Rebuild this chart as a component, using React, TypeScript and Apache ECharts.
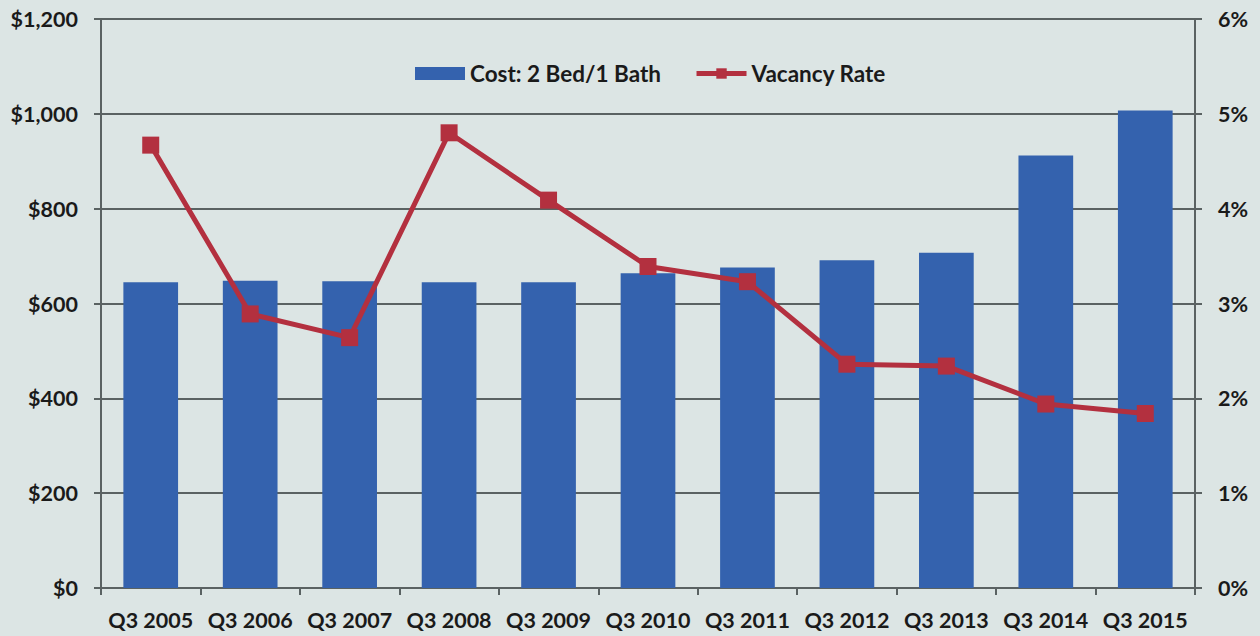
import React, { useEffect, useRef } from "react";
import * as echarts from "echarts";

const categories = ["Q3 2005", "Q3 2006", "Q3 2007", "Q3 2008", "Q3 2009", "Q3 2010", "Q3 2011", "Q3 2012", "Q3 2013", "Q3 2014", "Q3 2015"];
const costValues = [645, 648, 647, 645, 645, 664, 676, 691, 707, 912, 1007];
const vacancyValues = [4.67, 2.89, 2.64, 4.8, 4.09, 3.39, 3.23, 2.36, 2.34, 1.94, 1.84];

const FONT = "Lato, 'Open Sans', sans-serif";
const TEXT = "#1a1a1a";
const GRID = "#5a6262";
const RED = "#b3303f";
const AXIS_FS = 21.5;

export default function App() {
  const ref = useRef<HTMLDivElement>(null);
  useEffect(() => {
    document.body.style.margin = "0";
    const chart = echarts.init(ref.current!, null, { renderer: "svg" });
    chart.setOption({
      animation: false,
      backgroundColor: "#dce5e4",
      textStyle: { fontFamily: FONT },
      legend: {
        top: 57,
        left: 410,
        itemWidth: 50,
        itemHeight: 13,
        itemGap: 33,
        textStyle: { fontSize: 22.5, fontWeight: "bold", color: TEXT, fontFamily: FONT },
        data: [
          { name: "Cost: 2 Bed/1 Bath", icon: "rect" },
          { name: "Vacancy Rate", lineStyle: { width: 5, color: RED } },
        ],
      },
      grid: { left: 101, right: 65, top: 19, bottom: 48 },
      xAxis: {
        type: "category",
        data: categories,
        boundaryGap: true,
        axisLine: { show: true, lineStyle: { color: GRID, width: 2 } },
        axisTick: { show: true, alignWithLabel: false, length: 7, lineStyle: { color: GRID, width: 2 } },
        axisLabel: { fontSize: AXIS_FS, fontWeight: "bold", color: TEXT, margin: 21, fontFamily: FONT, interval: 0 },
      },
      yAxis: [
        {
          type: "value",
          min: 0,
          max: 1200,
          interval: 200,
          axisLine: { show: true, lineStyle: { color: GRID, width: 2 } },
          axisTick: { show: true, length: 7, lineStyle: { color: GRID, width: 2 } },
          splitLine: { show: true, lineStyle: { color: GRID, width: 2 } },
          axisLabel: {
            fontSize: AXIS_FS,
            fontWeight: "bold",
            color: TEXT,
            margin: 23,
            fontFamily: FONT,
            formatter: (v: number) => "$" + v.toLocaleString("en-US"),
          },
        },
        {
          type: "value",
          min: 0,
          max: 6,
          interval: 1,
          position: "right",
          axisLine: { show: true, lineStyle: { color: GRID, width: 2 } },
          axisTick: { show: true, length: 7, lineStyle: { color: GRID, width: 2 } },
          splitLine: { show: false },
          axisLabel: {
            fontSize: AXIS_FS,
            fontWeight: "bold",
            color: TEXT,
            margin: 23,
            fontFamily: FONT,
            formatter: (v: number) => v + "%",
          },
        },
      ],
      series: [
        {
          name: "Cost: 2 Bed/1 Bath",
          type: "bar",
          data: costValues,
          barWidth: "55%",
          itemStyle: { color: "#3462ae" },
          yAxisIndex: 0,
        },
        {
          name: "Vacancy Rate",
          type: "line",
          data: vacancyValues,
          yAxisIndex: 1,
          symbol: "rect",
          symbolSize: 17,
          lineStyle: { color: RED, width: 5 },
          itemStyle: { color: RED },
        },
      ],
    });
    return () => chart.dispose();
  }, []);
  return <div ref={ref} style={{ width: 1260, height: 636 }} />;
}
